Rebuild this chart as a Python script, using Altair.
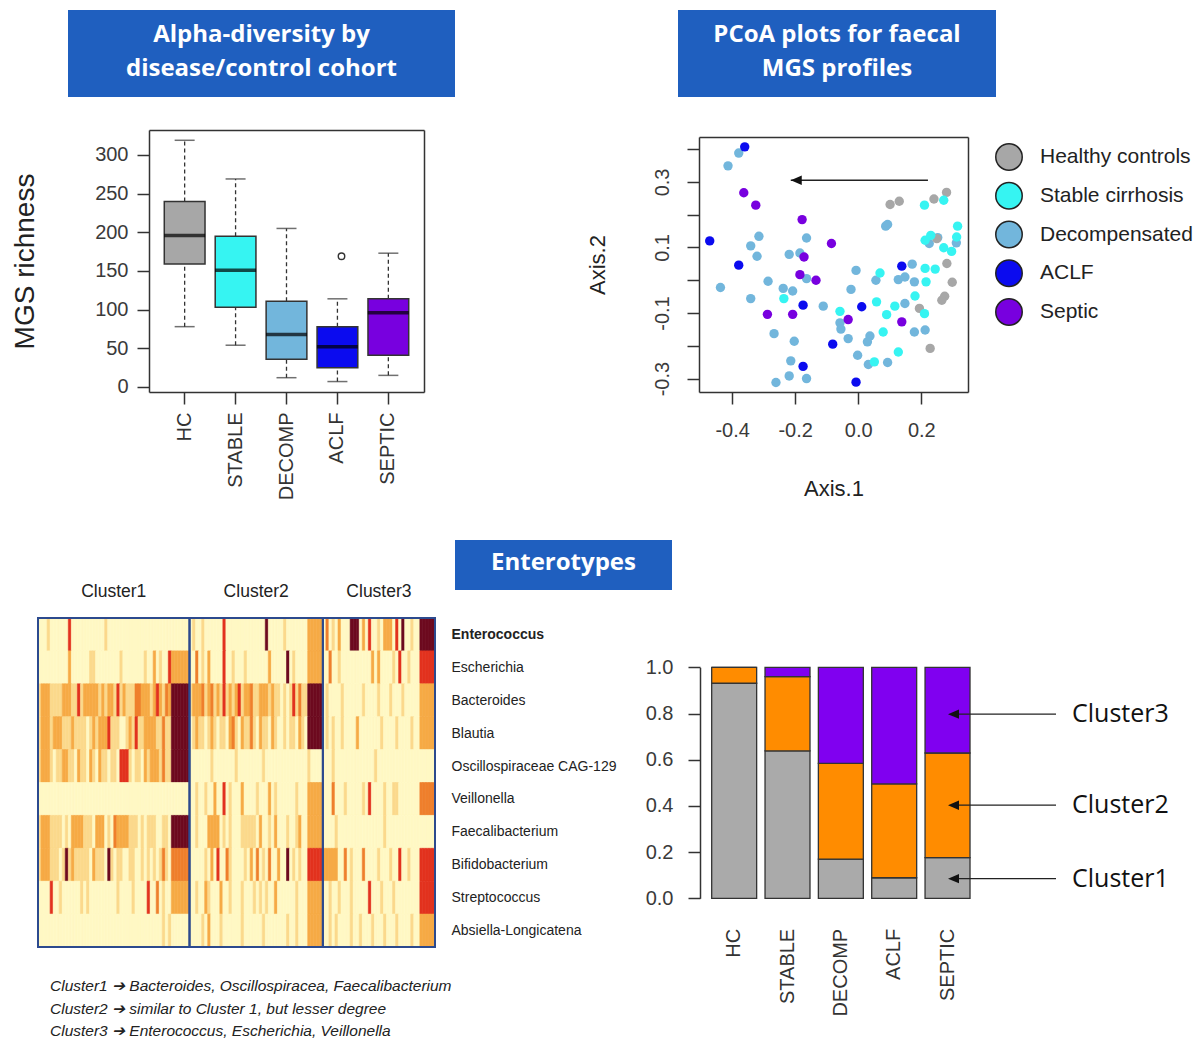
import altair as alt
import pandas as pd

W, H = 1194, 1040
SANS = "Liberation Sans"
NARROW = "Liberation Sans"
TITLE_FONT = "Open Sans"
INK = "#333333"
BOX_BLUE = "#1f5fbf"

# ---------------- data ----------------
COHORTS = ["HC", "STABLE", "DECOMP", "ACLF", "SEPTIC"]
COHORT_COLORS = ["#a7a7a7", "#36f4f2", "#72b6dc", "#0b0bef", "#7800df"]
BOX_LOW = [78, 54, 12, 7, 15]
BOX_Q1 = [159, 103, 36, 25, 41]
BOX_MEDIAN = [196, 151, 68, 52, 96]
BOX_Q3 = [240, 195, 111, 78, 114]
BOX_HIGH = [319, 269, 205, 114, 173]
OUTLIER_COHORT = ["ACLF"]
OUTLIER_VALUE = [169]

GROUPS = ["Healthy controls", "Stable cirrhosis", "Decompensated", "ACLF", "Septic"]
GROUP_COLORS = ["#a7a7a7", "#36f4f2", "#72b6dc", "#0b0bef", "#7800df"]
HC_X = [0.101, 0.130, 0.240, 0.280, 0.249, 0.281, 0.298, 0.274, 0.265, 0.194, 0.228]
HC_Y = [0.231, 0.241, 0.248, 0.268, 0.127, 0.051, -0.006, -0.049, -0.061, -0.086, -0.208]
STABLE_X = [-0.236, -0.058, 0.069, 0.058, 0.090, 0.116, 0.079, 0.127, 0.051, 0.180, 0.210,
            0.212, 0.212, 0.215, 0.210, 0.271, 0.315, 0.312, 0.230, 0.271, 0.296, 0.244]
STABLE_Y = [-0.056, -0.095, 0.022, -0.066, -0.105, -0.079, -0.158, -0.219, -0.249, -0.048, 0.229,
            0.122, 0.036, -0.005, -0.102, 0.244, 0.165, 0.132, 0.137, 0.099, 0.088, 0.034]
DECOMP_X = [-0.379, -0.413, -0.315, -0.341, -0.321, -0.437, -0.341, -0.286, -0.238, -0.208, -0.219,
            -0.185, -0.164, -0.164, -0.111, -0.267, -0.203, -0.214, -0.219, -0.164, -0.261, -0.007,
            -0.023, -0.058, -0.055, -0.032, -0.002, 0.032, 0.037, 0.029, 0.093, 0.056, 0.087,
            0.093, 0.127, 0.148, 0.171, 0.178, 0.148, 0.178, 0.212, 0.225, 0.252, 0.311]
DECOMP_Y = [0.388, 0.349, 0.134, 0.105, 0.073, -0.022, -0.056, -0.003, -0.025, -0.033, 0.079,
            0.083, 0.129, 0.005, -0.079, -0.163, -0.186, -0.246, -0.292, -0.300, -0.312, 0.030,
            -0.028, -0.130, -0.149, -0.178, -0.229, -0.257, -0.170, -0.188, -0.251, 0.0, 0.165,
            0.170, 0.002, 0.010, 0.049, -0.005, -0.071, -0.158, -0.152, 0.112, 0.130, 0.114]
ACLF_X = [-0.360, -0.471, -0.379, -0.175, 0.011, -0.081, -0.175, -0.007, 0.138]
ACLF_Y = [0.407, 0.120, 0.046, -0.076, -0.081, -0.195, -0.263, -0.311, 0.043]
SEPTIC_X = [-0.363, -0.325, -0.178, -0.085, -0.172, -0.185, -0.134, -0.288, -0.208, -0.032, 0.138]
SEPTIC_Y = [0.267, 0.229, 0.185, 0.112, 0.071, 0.017, 0.0, -0.104, -0.104, -0.120, -0.127]
PCOA_ARROW_FROM = [0.221]
PCOA_ARROW_TO = [-0.214]
PCOA_ARROW_Y = [0.305]

GENERA = ["Enterococcus", "Escherichia", "Bacteroides", "Blautia", "Oscillospiraceae CAG-129",
          "Veillonella", "Faecalibacterium", "Bifidobacterium", "Streptococcus", "Absiella-Longicatena"]
CLUSTER_NAMES = ["Cluster1", "Cluster2", "Cluster3"]
# heat levels per sample column (0 = pale ... 5 = dark red), one string per genus and cluster
HEAT_C1 = [
    "0001000000" "4000000000" "0010000000" "0000000000" "0000000000",
    "0000000000" "2000000110" "0000000100" "0000010020" "1004222222",
    "1222111122" "2114122222" "1212214121" "1133222124" "2132555555",
    "1222122211" "1211110121" "2224111001" "2141122221" "1311555555",
    "1222101122" "1102110210" "2110110444" "1011021222" "1311555555",
    "0000000000" "0000000000" "0000000000" "0000000000" "0000000000",
    "1222111101" "0222211102" "2201032222" "1110101110" "0110555555",
    "1222111015" "1211111021" "1105101100" "1100101010" "1310333333",
    "0000400100" "0000101000" "0000001000" "0100004003" "0100222222",
    "0000000000" "0000000000" "0000000000" "0000000000" "0101000000",
]
HEAT_C2 = [
    "0100100000" "0400000000" "0000050000" "0100000002" "2222",
    "0030102000" "0400100010" "0000002000" "0050100002" "2222",
    "1222312312" "1412124122" "3112221211" "0101413115" "5555",
    "0121101210" "1102310211" "3102110210" "0101102105" "5555",
    "0000000100" "0000010000" "0000100000" "0000000001" "0000",
    "0010010020" "0401000200" "0010002010" "0000010002" "2222",
    "0010002222" "0101000111" "1102001020" "0010012002" "2222",
    "0000010204" "0031000010" "2030103002" "0050101004" "4444",
    "0010021000" "2001000100" "0101010020" "0000010002" "2222",
    "0000102000" "1000000100" "0000100000" "0010010002" "2222",
]
HEAT_C3 = [
    "0301020005" "5502040010" "2220405001" "0055555",
    "0030010000" "0000002020" "0001040010" "0044444",
    "0100001000" "0001000010" "0010001000" "0022222",
    "0101001000" "0200000001" "0000100001" "0022222",
    "0001000000" "0000000100" "0000000000" "0000000",
    "0003000100" "0001040000" "1001100000" "0033333",
    "0000100000" "0000000000" "1000000000" "0000000",
    "2222200301" "0003000010" "0010040010" "0044444",
    "0010010001" "0000040001" "0001000000" "0044444",
    "0010100001" "0010001000" "1000100001" "0022222",
]
HEAT_LEVELS = ["0", "1", "2", "3", "4", "5"]
HEAT_COLORS = ["#fff8c4", "#fbd98c", "#f6aa45", "#ef7f2c", "#e2321e", "#6d0a1f"]
NOTES = ["Cluster1 \u2794 Bacteroides, Oscillospiracea, Faecalibacterium",
         "Cluster2 \u2794 similar to Cluster 1, but lesser degree",
         "Cluster3 \u2794 Enterococcus, Escherichia, Veillonella"]

BAR_CLUSTER1 = [0.931, 0.638, 0.170, 0.089, 0.176]
BAR_CLUSTER2 = [0.069, 0.322, 0.414, 0.406, 0.453]
BAR_CLUSTER3 = [0.000, 0.040, 0.416, 0.505, 0.371]
BAR_COLORS = ["#aaaaaa", "#ff8c00", "#8000f0"]
BAR_ARROW_LABELS = ["Cluster3", "Cluster2", "Cluster1"]
BAR_ARROW_Y = [0.797, 0.403, 0.085]

TITLE_1 = "Alpha-diversity by\ndisease/control cohort"
TITLE_2 = "PCoA plots for faecal\nMGS profiles"
TITLE_3 = "Enterotypes"

HEAD = "M 0 0 L 2 -0.85 L 2 0.85 Z"


# ---------------- helpers ----------------
def ax(**kw):
    base = dict(grid=False, labelFont=SANS, labelFontSize=20, labelColor="#3a3a3a",
                domainColor=INK, domainWidth=1.5, tickColor=INK, tickWidth=1.5,
                labelOverlap=False, labelFlush=False, labelBound=False, title=None,
                titleFont=SANS, titleFontWeight="normal", titleColor="#222222")
    base.update(kw)
    return alt.Axis(**base)


def frame_axis(orient, offset):
    return alt.Axis(orient=orient, offset=offset, labels=False, ticks=False, grid=False,
                    domainColor=INK, domainWidth=1.5, title=None)


MINUS = "replace(format(datum.value, '.1f'), '\u2212', '-')"
layers = []

# ---------------- boxplot ----------------
box_df = pd.DataFrame({"cohort": COHORTS, "low": BOX_LOW, "q1": BOX_Q1, "median": BOX_MEDIAN,
                       "q3": BOX_Q3, "high": BOX_HIGH})
out_df = pd.DataFrame({"cohort": OUTLIER_COHORT, "value": OUTLIER_VALUE})


def box_x(axis=None):
    return alt.X("cohort:N", sort=COHORTS,
                 scale=alt.Scale(domain=COHORTS, range=[149, 424], paddingInner=0.2, paddingOuter=0.3),
                 axis=axis)


def box_y(field, axis=None):
    return alt.Y(field, scale=alt.Scale(domain=[-6.5, 332.3], range=[392, 130], nice=False, zero=False),
                 axis=axis)


box_base = alt.Chart(box_df)
layers.append(box_base.mark_rule(color=INK, strokeWidth=1.3, strokeDash=[4, 3]).encode(
    x=box_x(frame_axis("top", -130)), y=box_y("q3:Q", frame_axis("right", -(W - 424))), y2="high:Q"))
layers.append(box_base.mark_rule(color=INK, strokeWidth=1.3, strokeDash=[4, 3]).encode(
    x=box_x(), y=box_y("low:Q"), y2="q1:Q"))
layers.append(box_base.mark_tick(color=INK, size=20, thickness=1.5).encode(x=box_x(), y=box_y("low:Q")))
layers.append(box_base.mark_tick(color=INK, size=20, thickness=1.5).encode(x=box_x(), y=box_y("high:Q")))
layers.append(box_base.mark_bar(stroke=INK, strokeWidth=1.5).encode(
    x=box_x(ax(orient="bottom", offset=-(H - 392), tickSize=12, labelAngle=-90, labelAlign="right",
               labelBaseline="middle", labelPadding=8, labelColor="#333333")),
    y=box_y("q1:Q", ax(orient="left", offset=-149, values=[0, 50, 100, 150, 200, 250, 300], tickSize=12,
                       labelPadding=9, title="MGS richness", titleFontSize=28, titleX=-124,
                       titleBaseline="middle", titleAngle=-90)),
    y2="q3:Q",
    fill=alt.Fill("cohort:N", scale=alt.Scale(domain=COHORTS, range=COHORT_COLORS), legend=None)))
layers.append(box_base.mark_tick(color="#000000", size=41, thickness=3.5).encode(
    x=box_x(), y=box_y("median:Q")))
layers.append(alt.Chart(out_df).mark_point(shape="circle", filled=False, size=42, color=INK,
                                           strokeWidth=1.4, opacity=1).encode(
    x=box_x(), y=box_y("value:Q")))

# ---------------- PCoA scatter ----------------
parts = []
for g, xs, ys in [(GROUPS[2], DECOMP_X, DECOMP_Y), (GROUPS[0], HC_X, HC_Y),
                  (GROUPS[1], STABLE_X, STABLE_Y), (GROUPS[4], SEPTIC_X, SEPTIC_Y),
                  (GROUPS[3], ACLF_X, ACLF_Y)]:
    parts.append(pd.DataFrame({"group": g, "x": xs, "y": ys}))
sc_df = pd.concat(parts, ignore_index=True)
sx = alt.Scale(domain=[-0.505, 0.348], range=[699, 968], nice=False, zero=False)
sy = alt.Scale(domain=[-0.341, 0.437], range=[392, 137], nice=False, zero=False)
grp_color = alt.Scale(domain=GROUPS, range=GROUP_COLORS)

layers.append(alt.Chart(sc_df).mark_circle(size=88, opacity=1).encode(
    x=alt.X("x:Q", scale=sx, axis=ax(orient="bottom", offset=-(H - 392), values=[-0.4, -0.2, 0.0, 0.2],
                                      labelExpr=MINUS, tickSize=12, labelPadding=16, title="Axis.1",
                                      titleFontSize=22, titleY=96, titleBaseline="middle")),
    y=alt.Y("y:Q", scale=sy, axis=ax(orient="left", offset=-699,
                                      values=[-0.3, -0.2, -0.1, 0.0, 0.1, 0.2, 0.3, 0.4],
                                      labelExpr="abs(round(datum.value*10)) % 2 == 1 ? " + MINUS + " : ''",
                                      labelAngle=-90, labelAlign="center", labelBaseline="bottom",
                                      tickSize=12, labelPadding=15, title="Axis.2", titleFontSize=22,
                                      titleX=-102, titleBaseline="middle", titleAngle=-90)),
    color=alt.Color("group:N", scale=grp_color, legend=None)))

arrow_df = pd.DataFrame({"x0": PCOA_ARROW_FROM, "x1": PCOA_ARROW_TO, "y": PCOA_ARROW_Y})
layers.append(alt.Chart(arrow_df).mark_rule(color="#222222", strokeWidth=1.3).encode(
    x=alt.X("x0:Q", scale=sx, axis=frame_axis("top", -137)),
    x2="x1:Q",
    y=alt.Y("y:Q", scale=sy, axis=frame_axis("right", -(W - 968)))))
layers.append(alt.Chart(arrow_df).mark_point(shape=HEAD, filled=True, size=121, color="#111111",
                                             opacity=1).encode(
    x=alt.X("x1:Q", scale=sx, axis=None), y=alt.Y("y:Q", scale=sy, axis=None)))

# legend
leg_df = pd.DataFrame({"group": GROUPS})
leg_y = alt.Y("group:N", sort=GROUPS, scale=alt.Scale(domain=GROUPS, range=[157, 312], padding=0), axis=None)
layers.append(alt.Chart(leg_df).mark_circle(size=700, stroke="#222222", strokeWidth=1.5, opacity=1).encode(
    x=alt.value(1009), y=leg_y, color=alt.Color("group:N", scale=grp_color, legend=None)))
layers.append(alt.Chart(leg_df).mark_text(align="left", baseline="middle", font=SANS, fontSize=21,
                                          color="#222222").encode(
    x=alt.value(1040), y=leg_y, text="group:N"))

# ---------------- heatmap ----------------
n1 = max(len(s) for s in HEAT_C1)
n2 = max(len(s) for s in HEAT_C2)
n3 = max(len(s) for s in HEAT_C3)
ntot = n1 + n2 + n3
cells = []
for r, (a, b, c) in enumerate(zip(HEAT_C1, HEAT_C2, HEAT_C3)):
    s = a.ljust(n1, "0") + b.ljust(n2, "0") + c.ljust(n3, "0")
    for i, ch in enumerate(s):
        cells.append({"r0": r, "r1": r + 1, "c0": i, "c1": i + 1, "level": ch})
heat_df = pd.DataFrame(cells)
hx = alt.Scale(domain=[0, ntot], range=[38, 435], nice=False, zero=False)
hy = alt.Scale(domain=[0, len(GENERA)], range=[618, 947], nice=False, zero=False)
heat_scale = alt.Scale(domain=HEAT_LEVELS, range=HEAT_COLORS)
genus_expr = "[" + ",".join("'" + g + "'" for g in GENERA) + "][floor(datum.value)]"

layers.append(alt.Chart(heat_df).mark_rect(strokeWidth=0.6).encode(
    x=alt.X("c0:Q", scale=hx, axis=None), x2="c1:Q",
    y=alt.Y("r0:Q", scale=hy, axis=alt.Axis(
        orient="right", offset=-(W - 435), values=[r + 0.5 for r in range(len(GENERA))],
        labelExpr=genus_expr, domain=False, ticks=False, grid=False, labelPadding=16,
        labelFont=NARROW, labelFontSize=14, labelColor="#222222", labelAlign="left",
        labelBaseline="middle", labelOverlap=False, labelBound=False, labelFlush=False, title=None,
        labelFontWeight={"condition": {"test": "datum.value < 1", "value": "bold"}, "value": "normal"})),
    y2="r1:Q",
    fill=alt.Fill("level:N", scale=heat_scale, legend=None),
    stroke=alt.Stroke("level:N", scale=heat_scale, legend=None)))

cl_df = pd.DataFrame({"name": CLUSTER_NAMES, "c0": [0, n1, n1 + n2], "c1": [n1, n1 + n2, ntot]})
cl_df["mid"] = (cl_df["c0"] + cl_df["c1"]) / 2
cl_df["top"] = 0
cl_df["bottom"] = len(GENERA)
layers.append(alt.Chart(cl_df).mark_rect(filled=False, color="#2c4a8e", strokeWidth=2).encode(
    x=alt.X("c0:Q", scale=hx, axis=None), x2="c1:Q",
    y=alt.Y("top:Q", scale=hy, axis=None), y2="bottom:Q"))
layers.append(alt.Chart(cl_df).mark_text(font=NARROW, fontSize=17.5, color="#222222", baseline="middle").encode(
    x=alt.X("mid:Q", scale=hx, axis=None), y=alt.value(592), text="name:N"))

notes_df = pd.DataFrame({"line": NOTES, "i": list(range(len(NOTES)))})
layers.append(alt.Chart(notes_df).mark_text(font=NARROW, fontSize=15.5, fontStyle="italic", align="left",
                                            baseline="middle", color="#222222").encode(
    x=alt.value(50),
    y=alt.Y("i:O", scale=alt.Scale(domain=list(range(len(NOTES))), range=[986, 1031], padding=0), axis=None),
    text="line:N"))

# ---------------- stacked bars ----------------
bar_rows = []
for i, c in enumerate(COHORTS):
    for k, vals in enumerate([BAR_CLUSTER1, BAR_CLUSTER2, BAR_CLUSTER3]):
        bar_rows.append({"cohort": c, "cluster": CLUSTER_NAMES[k], "k": k, "frac": vals[i]})
bar_df = pd.DataFrame(bar_rows)
bxs = alt.Scale(domain=COHORTS, range=[707.5, 974.2], paddingInner=0.157, paddingOuter=0.0785)
bys = alt.Scale(domain=[0, 1], range=[898.3, 667.3], nice=False)
layers.append(alt.Chart(bar_df).mark_bar(stroke=INK, strokeWidth=1.3).encode(
    x=alt.X("cohort:N", sort=COHORTS, scale=bxs,
            axis=ax(orient="bottom", offset=-(H - 898.3), labelAngle=-90, labelAlign="right",
                    labelBaseline="middle", labelPadding=30, ticks=False, domain=False, labelColor="#333333")),
    y=alt.Y("frac:Q", stack="zero", scale=bys,
            axis=ax(orient="left", offset=-700, values=[0, 0.2, 0.4, 0.6, 0.8, 1.0], format=".1f",
                    tickSize=12, labelPadding=15)),
    fill=alt.Fill("cluster:N", scale=alt.Scale(domain=CLUSTER_NAMES, range=BAR_COLORS), legend=None),
    order=alt.Order("k:Q", sort="ascending")))

barr_df = pd.DataFrame({"label": BAR_ARROW_LABELS, "y": BAR_ARROW_Y})
barr_y = alt.Y("y:Q", scale=bys, axis=None)
layers.append(alt.Chart(barr_df).mark_rule(color="#222222", strokeWidth=1.3).encode(
    x=alt.value(1056), x2=alt.value(955), y=barr_y))
layers.append(alt.Chart(barr_df).mark_point(shape=HEAD, filled=True, size=121, color="#111111",
                                            opacity=1).encode(x=alt.value(948), y=barr_y))
layers.append(alt.Chart(barr_df).mark_text(align="left", baseline="middle", font=TITLE_FONT, fontSize=25,
                                           color="#111111").encode(
    x=alt.value(1072), y=barr_y, text="label:N"))


# ---------------- blue title boxes ----------------
def title_box(text, x0, x1, y0, y1, size):
    d = pd.DataFrame({"t": [text]})
    n_lines = text.count("\n") + 1
    lh = 34
    rect = alt.Chart(d).mark_rect(color=BOX_BLUE).encode(
        x=alt.value(x0), x2=alt.value(x1), y=alt.value(y0), y2=alt.value(y1))
    txt = alt.Chart(d).mark_text(font=TITLE_FONT, fontSize=size, fontWeight="bold", color="white",
                                 lineBreak="\n", lineHeight=lh, align="center", baseline="middle").encode(
        x=alt.value((x0 + x1) / 2), y=alt.value((y0 + y1) / 2 - (n_lines - 1) * lh / 2 - 2), text="t:N")
    return [rect, txt]


layers += title_box(TITLE_1, 68, 455, 10, 97, 24)
layers += title_box(TITLE_2, 678, 996, 10, 97, 24)
layers += title_box(TITLE_3, 455, 672, 540, 590, 24)

chart = alt.layer(*layers).resolve_scale(
    x="independent", y="independent", color="independent", fill="independent", stroke="independent"
).resolve_axis(x="independent", y="independent").properties(
    width=W, height=H, autosize=alt.AutoSizeParams(type="none"), padding=0, background="white"
).configure_view(stroke=None).configure_axis(grid=False)

chart.save("out.html", embed_options={"renderer": "svg", "actions": False})
